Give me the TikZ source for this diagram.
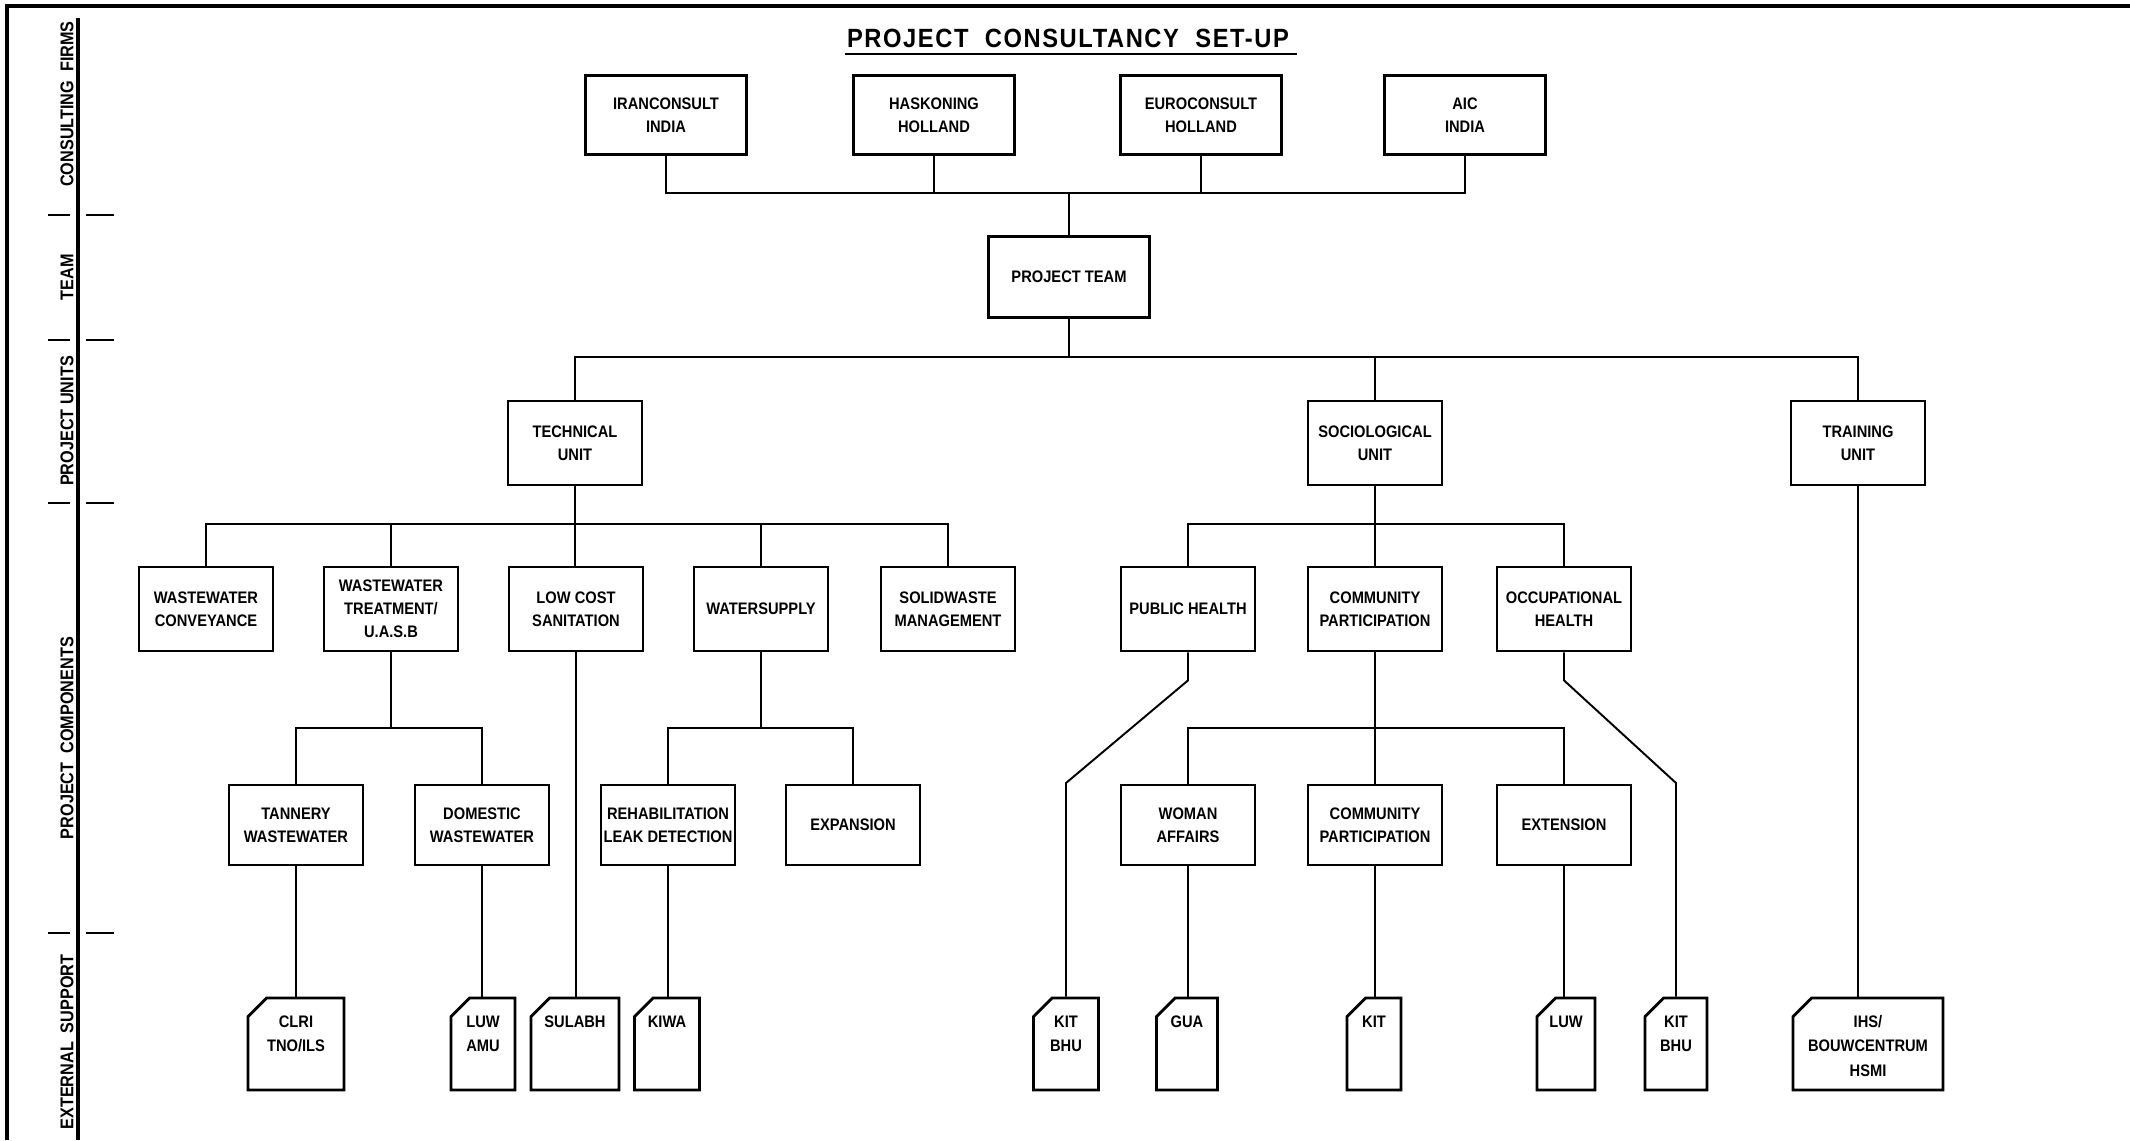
\documentclass[tikz,border=0pt]{standalone}
\usepackage{fontspec}
\setmainfont{Liberation Sans}[FakeStretch=0.88]
\newfontfamily\titlefont{Liberation Sans}[FakeStretch=0.9,LetterSpace=6]
\usepackage{tikz}
\usetikzlibrary{shapes.misc, positioning}
\newcommand{\supporttext}[1]{\raisebox{0.34cm}[0.3cm][0.3cm]{\makebox[0pt]{\begin{tabular}[t]{@{}c@{}}#1\end{tabular}}}}

\begin{document}
\begin{tikzpicture}[x=0.02cm, y=-0.02cm,
  every node/.style={font=\fontsize{9.5}{13}\selectfont\bfseries},
  unitbox/.style={draw, line width=1.6pt, inner sep=1pt, align=center, minimum width=2.68cm, minimum height=1.68cm},
  firmbox/.style={unitbox, minimum width=3.22cm, minimum height=1.58cm},
  subbox/.style={unitbox, minimum height=1.6cm},
  supportbox/.style={draw, line width=1.6pt, inner sep=1pt, chamfered rectangle, chamfered rectangle corners=north west, chamfered rectangle xsep=0.5cm, minimum height=1.84cm, font=\fontsize{9.5}{14}\selectfont\bfseries},
  link/.style={line width=1.1pt},
  frame/.style={line width=2pt},
  sidelabel/.style={rotate=90, inner sep=0pt, font=\fontsize{10.5}{12}\selectfont\bfseries}]
  \useasboundingbox (0,0) rectangle (2130,1140);

  % frame and side column
  \draw[frame] (7,1140) -- (7,6) -- (2130,6);
  \draw[frame] (78,18) -- (78,1140);
  \foreach \y in {215,340,503,933}
    \draw[line width=1pt] (48,\y) -- (70,\y) (86,\y) -- (114,\y);
  \node[sidelabel] (lblfirms) at (67,104) {CONSULTING\ \ FIRMS};
  \node[sidelabel] (lblteam) at (67,277) {TEAM};
  \node[sidelabel] (lblunits) at (67,421) {PROJECT UNITS};
  \node[sidelabel] (lblcomp) at (67,738) {PROJECT\ \ COMPONENTS};
  \node[sidelabel] (lblsupport) at (67,1042) {EXTERNAL\ \ SUPPORT};

  % title
  \node[font=\titlefont\fontsize{15}{18}\selectfont\bfseries] (title) at (1068,38) {PROJECT\ \ CONSULTANCY\ \ SET-UP};
  \draw[line width=1.6pt] (845,54) -- (1297,54);

  % consulting firms and team
  \node[firmbox] (iran) at (666,115) {IRANCONSULT\\INDIA};
  \node[firmbox] (hask) at (934,115) {HASKONING\\HOLLAND};
  \node[firmbox] (euro) at (1201,115) {EUROCONSULT\\HOLLAND};
  \node[firmbox] (aic) at (1465,115) {AIC\\INDIA};
  \node[firmbox, minimum height=1.62cm] (team) at (1069,277) {PROJECT TEAM};

  % project units
  \node[unitbox] (tech) at (575,443) {TECHNICAL\\UNIT};
  \node[unitbox] (socio) at (1375,443) {SOCIOLOGICAL\\UNIT};
  \node[unitbox] (train) at (1858,443) {TRAINING\\UNIT};

  % project components
  \node[unitbox] (convey) at (206,609) {WASTEWATER\\CONVEYANCE};
  \node[unitbox] (treat) at (391,609) {WASTEWATER\\TREATMENT/\\U.A.S.B};
  \node[unitbox] (lowcost) at (576,609) {LOW COST\\SANITATION};
  \node[unitbox] (water) at (761,609) {WATERSUPPLY};
  \node[unitbox] (solid) at (948,609) {SOLIDWASTE\\MANAGEMENT};
  \node[unitbox] (pubhealth) at (1188,609) {PUBLIC HEALTH};
  \node[unitbox] (commpart) at (1375,609) {COMMUNITY\\PARTICIPATION};
  \node[unitbox] (occhealth) at (1564,609) {OCCUPATIONAL\\HEALTH};

  \node[subbox] (tannery) at (296,825) {TANNERY\\WASTEWATER};
  \node[subbox] (domestic) at (482,825) {DOMESTIC\\WASTEWATER};
  \node[subbox] (rehab) at (668,825) {REHABILITATION\\LEAK DETECTION};
  \node[subbox] (expansion) at (853,825) {EXPANSION};
  \node[subbox] (woman) at (1188,825) {WOMAN\\AFFAIRS};
  \node[subbox] (commpart2) at (1375,825) {COMMUNITY\\PARTICIPATION};
  \node[subbox] (extension) at (1564,825) {EXTENSION};

  % external support
  \node[supportbox, minimum width=1.92cm] (clri) at (296,1044) {\supporttext{CLRI\\TNO/ILS}};
  \node[supportbox, minimum width=1.28cm] (luwamu) at (483,1044) {\supporttext{LUW\\AMU}};
  \node[supportbox, minimum width=1.76cm] (sulabh) at (575,1044) {\supporttext{SULABH}};
  \node[supportbox, minimum width=1.3cm] (kiwa) at (667,1044) {\supporttext{KIWA}};
  \node[supportbox, minimum width=1.3cm] (kitbhu) at (1066,1044) {\supporttext{KIT\\BHU}};
  \node[supportbox, minimum width=1.22cm] (gua) at (1187,1044) {\supporttext{GUA}};
  \node[supportbox, minimum width=1.08cm] (kit) at (1374,1044) {\supporttext{KIT}};
  \node[supportbox, minimum width=1.16cm] (luw) at (1566,1044) {\supporttext{LUW}};
  \node[supportbox, minimum width=1.24cm] (kitbhu2) at (1676,1044) {\supporttext{KIT\\BHU}};
  \node[supportbox, minimum width=3cm] (ihs) at (1868,1044) {\supporttext{IHS/\\BOUWCENTRUM\\HSMI}};

  % connectors
  \coordinate (firmbus) at (1069,193);
  \draw[link] (iran.south) |- (firmbus) -| (aic.south);
  \draw[link] (hask.south) -- (hask.south |- firmbus);
  \draw[link] (euro.south) -- (euro.south |- firmbus);
  \draw[link] (firmbus) -- (team.north);

  \coordinate (unitbus) at (1069,357);
  \draw[link] (team.south) -- (unitbus);
  \draw[link] (tech.north) |- (unitbus) -| (train.north);
  \draw[link] (socio.north) -- (socio.north |- unitbus);

  \coordinate (techbus) at (575,524);
  \draw[link] (tech.south) -- (tech.south |- lowcost.north);
  \draw[link] (convey.north) |- (techbus) -| (solid.north);
  \draw[link] (treat.north) -- (treat.north |- techbus);
  \draw[link] (water.north) -- (water.north |- techbus);

  \coordinate (sociobus) at (1375,524);
  \draw[link] (socio.south) -- (commpart.north);
  \draw[link] (pubhealth.north) |- (sociobus) -| (occhealth.north);

  \coordinate (treatbus) at (391,728);
  \draw[link] (treat.south) -- (treatbus);
  \draw[link] (tannery.north) |- (treatbus) -| (domestic.north);

  \coordinate (waterbus) at (761,728);
  \draw[link] (water.south) -- (waterbus);
  \draw[link] (rehab.north) |- (waterbus) -| (expansion.north);

  \coordinate (socio2bus) at (1375,728);
  \draw[link] (commpart.south) -- (commpart2.north);
  \draw[link] (woman.north) |- (socio2bus) -| (extension.north);

  \draw[link] (tannery.south) -- (tannery.south |- clri.north);
  \draw[link] (domestic.south) -- (domestic.south |- luwamu.north);
  \draw[link] (lowcost.south) -- (lowcost.south |- sulabh.north);
  \draw[link] (rehab.south) -- (rehab.south |- kiwa.north);
  \draw[link] (woman.south) -- (woman.south |- gua.north);
  \draw[link] (commpart2.south) -- (commpart2.south |- kit.north);
  \draw[link] (extension.south) -- (extension.south |- luw.north);
  \draw[link] (train.south) -- (train.south |- ihs.north);

  \coordinate (phbend) at (1066,783);
  \draw[link] (pubhealth.south) -- ++(0,28) -- (phbend) -- (kitbhu.north);
  \coordinate (ohbend) at (1676,783);
  \draw[link] (occhealth.south) -- ++(0,28) -- (ohbend) -- (kitbhu2.north);
\end{tikzpicture}
\end{document}
